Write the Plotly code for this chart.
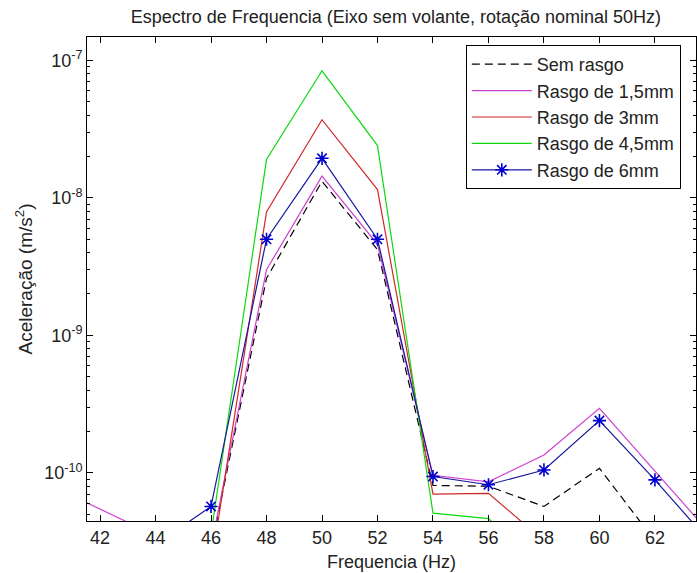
import plotly.graph_objects as go

freqs = [40, 42, 44, 46, 48, 50, 52, 54, 56, 58, 60, 62, 64]

sem_rasgo = [2e-11, 2e-11, 2e-11, 2.8e-11, 2.6e-9, 1.32e-8, 4.2e-9, 8.1e-11, 8.0e-11, 5.7e-11, 1.08e-10, 3.2e-11, 2e-11]
rasgo_1_5 = [8.5e-11, 5.5e-11, 3.5e-11, 2.9e-11, 3.0e-9, 1.44e-8, 4.6e-9, 9.6e-11, 8.6e-11, 1.35e-10, 2.95e-10, 1.03e-10, 3.6e-11]
rasgo_3 = [2e-11, 2e-11, 2e-11, 2.1e-11, 7.9e-9, 3.7e-8, 1.15e-8, 7.0e-11, 7.1e-11, 3.2e-11, 2e-11, 2e-11, 2e-11]
rasgo_4_5 = [2e-11, 2e-11, 2e-11, 3.6e-11, 1.9e-8, 8.4e-8, 2.4e-8, 5.1e-11, 4.65e-11, 2e-11, 2e-11, 2e-11, 2e-11]
rasgo_6 = [2e-11, 2e-11, 3.0e-11, 5.7e-11, 5.0e-9, 1.94e-8, 5.0e-9, 9.4e-11, 8.2e-11, 1.05e-10, 2.4e-10, 8.9e-11, 3.1e-11]

names = ["Sem rasgo", "Rasgo de 1,5mm", "Rasgo de 3mm", "Rasgo de 4,5mm", "Rasgo de 6mm"]
x_ticks = [42, 44, 46, 48, 50, 52, 54, 56, 58, 60, 62]
y_ticks = [1e-10, 1e-9, 1e-8, 1e-7]
y_ticktext = ["10<sup>-10</sup>", "10<sup>-9</sup>", "10<sup>-8</sup>", "10<sup>-7</sup>"]

FONT = "Liberation Sans, Arial, sans-serif"
TXT = "#222222"

fig = go.Figure()
fig.add_trace(go.Scatter(x=freqs, y=sem_rasgo, mode="lines", name=names[0],
                         line=dict(color="black", width=1.2, dash="8px,5px")))
fig.add_trace(go.Scatter(x=freqs, y=rasgo_1_5, mode="lines", name=names[1],
                         line=dict(color="#d040d0", width=1.2)))
fig.add_trace(go.Scatter(x=freqs, y=rasgo_3, mode="lines", name=names[2],
                         line=dict(color="#d02828", width=1.2)))
fig.add_trace(go.Scatter(x=freqs, y=rasgo_4_5, mode="lines", name=names[3],
                         line=dict(color="#10d810", width=1.2)))
fig.add_trace(go.Scatter(x=freqs, y=rasgo_6, mode="lines+markers", name=names[4],
                         line=dict(color="#1818a0", width=1.2),
                         marker=dict(symbol="asterisk-open", size=11, color="#0000d0",
                                     line=dict(color="#0000d0", width=1.6))))

fig.update_layout(
    width=697, height=573,
    margin=dict(l=87, r=1, t=37, b=52),
    paper_bgcolor="white", plot_bgcolor="white",
    font=dict(family=FONT, size=18, color=TXT),
    title=dict(text="Espectro de Frequencia (Eixo sem volante, rotação nominal 50Hz)",
               x=0.568, xanchor="center", y=0.97, yanchor="middle",
               font=dict(family=FONT, size=18, color=TXT)),
    showlegend=True,
    legend=dict(x=0.622, y=0.9835, xanchor="left", yanchor="top",
                bgcolor="white", bordercolor="black", borderwidth=1,
                font=dict(family=FONT, size=18, color=TXT),
                itemwidth=60, tracegroupgap=0),
)

fig.update_xaxes(
    range=[41.53, 63.48], tickvals=x_ticks, ticks="inside", ticklen=6,
    tickcolor="black", showline=True, linecolor="black", linewidth=1,
    mirror="ticks", showgrid=False, zeroline=False,
    tickfont=dict(family=FONT, size=18, color=TXT),
    title=dict(text="Frequencia (Hz)", font=dict(family=FONT, size=18, color=TXT), standoff=8),
)
fig.update_yaxes(
    type="log", range=[-10.35, -6.83], tickvals=y_ticks, ticktext=y_ticktext,
    ticks="inside", ticklen=6, tickcolor="black", showline=True,
    linecolor="black", linewidth=1, mirror="ticks", showgrid=False,
    zeroline=False, tickfont=dict(family=FONT, size=18, color=TXT),
    minor=dict(ticks="inside", ticklen=3, tickcolor="black", dtick="D1", showgrid=False),
    title=dict(text="Aceleração (m/s<sup>2</sup>)", font=dict(family=FONT, size=19, color=TXT), standoff=6),
)

fig.write_html("out.html")
